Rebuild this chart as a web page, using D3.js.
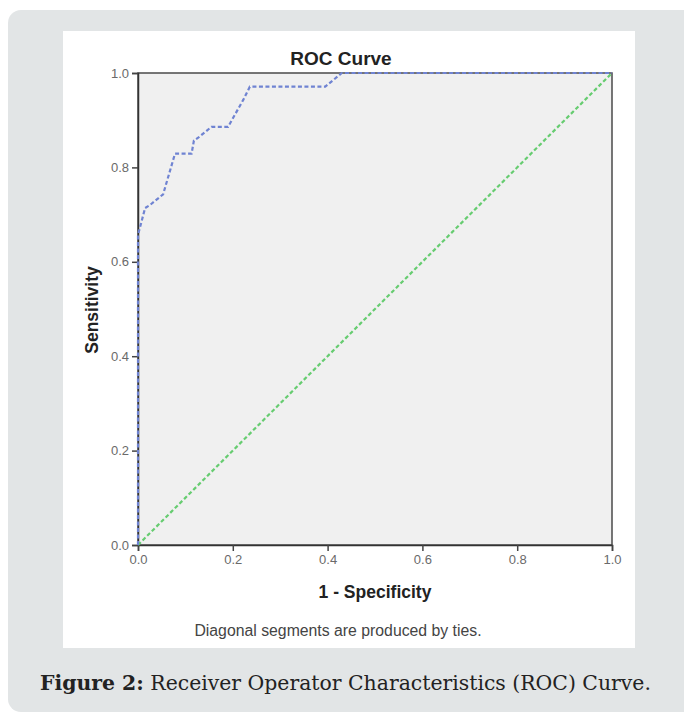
<!DOCTYPE html>
<html>
<head>
<meta charset="utf-8">
<script src="https://cdn.jsdelivr.net/npm/d3@7"></script>
<style>
body { margin: 0; background: #fff; }
</style>
</head>
<body>
<script>
// ROC points (1 - specificity, sensitivity)
var fpr = [0, 0, 0.015, 0.025, 0.053, 0.078, 0.085, 0.113, 0.118, 0.127, 0.155, 0.19, 0.222, 0.236, 0.395, 0.43, 1];
var tpr = [0, 0.657, 0.714, 0.72, 0.743, 0.829, 0.829, 0.829, 0.857, 0.863, 0.886, 0.886, 0.943, 0.971, 0.971, 1, 1];
var refLine = [0, 1];
var ticks = [0, 0.2, 0.4, 0.6, 0.8, 1.0];

var W = 684, H = 713;
var svg = d3.select("body").append("svg")
  .attr("width", W)
  .attr("height", H);

// outer grey panel + white card
svg.append("rect")
  .attr("x", 8).attr("y", 10)
  .attr("width", W + 20).attr("height", H - 11)
  .attr("rx", 13)
  .style("fill", "#e2e5e6");
svg.append("rect")
  .attr("x", 63).attr("y", 31)
  .attr("width", 572).attr("height", 617)
  .style("fill", "#ffffff");

var x = d3.scaleLinear().domain([0, 1]).range([138, 612]);
var y = d3.scaleLinear().domain([0, 1]).range([545, 73]);

// plot area
svg.append("rect")
  .attr("x", x(0)).attr("y", y(1))
  .attr("width", x(1) - x(0)).attr("height", y(0) - y(1))
  .style("fill", "#f0f0f0")
  .attr("stroke", "#4a4a4a")
  .attr("stroke-width", 1.5);

var xAxis = svg.append("g")
  .attr("transform", "translate(0," + y(0) + ")")
  .call(d3.axisBottom(x).tickValues(ticks).tickSize(6).tickPadding(4).tickFormat(d3.format(".1f")));
var yAxis = svg.append("g")
  .attr("transform", "translate(" + x(0) + ",0)")
  .call(d3.axisLeft(y).tickValues(ticks).tickSize(6).tickPadding(3).tickFormat(d3.format(".1f")));

[xAxis, yAxis].forEach(function(g) {
  g.select(".domain").attr("stroke", "#333").attr("stroke-width", 1.5);
  g.selectAll(".tick line").attr("stroke", "#444").attr("stroke-width", 1.5);
  g.selectAll(".tick text")
    .style("font-family", "Liberation Sans, Arial, sans-serif")
    .style("font-size", "13px")
    .style("fill", "#6a6a6a");
});

// diagonal reference
svg.append("line")
  .attr("x1", x(refLine[0])).attr("y1", y(refLine[0]))
  .attr("x2", x(refLine[1])).attr("y2", y(refLine[1]))
  .attr("stroke", "#66cc70")
  .attr("stroke-width", 2.2)
  .attr("stroke-dasharray", "4,2.5");

// ROC curve
var pts = fpr.map(function(d, i) { return [d, tpr[i]]; });
var line = d3.line()
  .x(function(d) { return x(d[0]); })
  .y(function(d) { return y(d[1]); });
svg.append("path")
  .datum(pts)
  .attr("d", line)
  .attr("fill", "none")
  .attr("stroke", "#6f83d2")
  .attr("stroke-width", 2.2)
  .attr("stroke-dasharray", "4,2.5");

// titles
svg.append("text")
  .attr("x", 341).attr("y", 65)
  .attr("text-anchor", "middle")
  .style("font-family", "Liberation Sans, Arial, sans-serif")
  .style("font-weight", "bold")
  .style("font-size", "19px")
  .style("fill", "#222")
  .text("ROC Curve");

svg.append("text")
  .attr("x", 375).attr("y", 598)
  .attr("text-anchor", "middle")
  .style("font-family", "Liberation Sans, Arial, sans-serif")
  .style("font-weight", "bold")
  .style("font-size", "17.5px")
  .style("fill", "#222")
  .text("1 - Specificity");

svg.append("text")
  .attr("transform", "translate(98,310) rotate(-90)")
  .attr("text-anchor", "middle")
  .style("font-family", "Liberation Sans, Arial, sans-serif")
  .style("font-weight", "bold")
  .style("font-size", "17.5px")
  .style("fill", "#222")
  .text("Sensitivity");

svg.append("text")
  .attr("x", 338).attr("y", 636)
  .attr("text-anchor", "middle")
  .style("font-family", "Liberation Sans, Arial, sans-serif")
  .style("font-size", "15.8px")
  .style("fill", "#444")
  .text("Diagonal segments are produced by ties.");

// figure caption
var cap = svg.append("text")
  .attr("x", 40).attr("y", 690)
  .style("font-family", "DejaVu Serif, serif")
  .style("font-size", "20.4px")
  .style("fill", "#222");
cap.append("tspan").style("font-weight", "bold").text("Figure 2:");
cap.append("tspan").text(" Receiver Operator Characteristics (ROC) Curve.");
</script>
</body>
</html>
